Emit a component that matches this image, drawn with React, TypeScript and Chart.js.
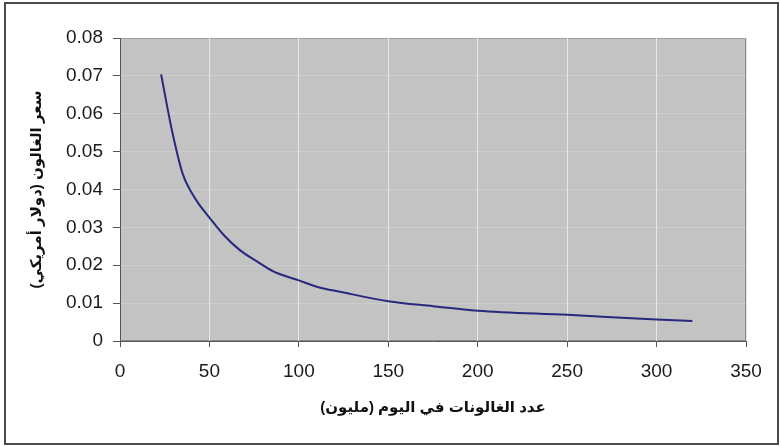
import { useEffect, useRef } from 'react'
import { Chart, registerables } from 'chart.js'

Chart.register(...registerables)

// gallons per day (million) vs. price per gallon (USD)
const gallons = [23, 29, 35, 40, 44, 50, 58, 67, 77, 86, 100, 111, 123, 150, 175, 200, 250, 300, 320]
const prices = [
  0.0704, 0.0557, 0.0442, 0.0392, 0.0362, 0.0326, 0.028, 0.024, 0.0209, 0.0183, 0.016, 0.0142,
  0.013, 0.0105, 0.0092, 0.008, 0.0069, 0.0057, 0.0053,
]

const xTicks = [0, 50, 100, 150, 200, 250, 300, 350]
const yTicks = [0, 0.01, 0.02, 0.03, 0.04, 0.05, 0.06, 0.07, 0.08]
const yTickLabels = ['0', '0.01', '0.02', '0.03', '0.04', '0.05', '0.06', '0.07', '0.08']

// RLM marks keep the parentheses on the right side of the Arabic run
const xTitle = '\u200Fعدد الغالونات في اليوم (مليون)\u200F'
const yTitle = '\u200Fسعر الغالون (دولار أمريكي)\u200F'

const FONT = "'Liberation Sans', Arial, 'DejaVu Sans', sans-serif"

/** Grey plot background with a thin frame, Excel style */
const plotBackground = {
  id: 'plotBackground',
  beforeDraw(chart: Chart) {
    const { ctx, chartArea: a } = chart
    ctx.save()
    ctx.fillStyle = '#c3c3c3'
    ctx.fillRect(a.left, a.top, a.right - a.left, a.bottom - a.top)
    ctx.strokeStyle = '#8a8a8a'
    ctx.lineWidth = 1
    ctx.strokeRect(a.left + 0.5, a.top + 0.5, a.right - a.left - 1, a.bottom - a.top - 1)
    ctx.restore()
  },
}

export default function App() {
  const canvasRef = useRef<HTMLCanvasElement>(null)
  const chartRef = useRef<Chart | null>(null)

  useEffect(() => {
    if (!canvasRef.current) return
    const ctx = canvasRef.current.getContext('2d')
    if (!ctx) return

    chartRef.current = new Chart(ctx, {
      type: 'scatter',
      data: {
        datasets: [
          {
            data: gallons.map((g, i) => ({ x: g, y: prices[i] })),
            showLine: true,
            borderColor: '#28287f',
            borderWidth: 2,
            pointRadius: 0,
            cubicInterpolationMode: 'monotone',
          },
        ],
      },
      options: {
        animation: false,
        responsive: true,
        maintainAspectRatio: false,
        layout: { padding: { left: 0, top: 38, right: 35, bottom: 0 } },
        plugins: { legend: { display: false }, tooltip: { enabled: false } },
        scales: {
          x: {
            type: 'linear',
            min: 0,
            max: 350,
            afterBuildTicks: (s: any) => {
              s.ticks = xTicks.map((v) => ({ value: v }))
            },
            afterFit: (s: any) => {
              s.height = 105
            },
            grid: {
              color: '#e6e6e6',
              tickColor: '#555',
              tickLength: 6,
            },
            border: { color: '#555', width: 1 },
            ticks: {
              color: '#1a1a1a',
              padding: 13,
              maxRotation: 0,
              font: { family: FONT, size: 19 },
            },
            title: {
              display: true,
              text: xTitle,
              color: '#111',
              padding: { top: 0, bottom: 29 },
              font: { family: FONT, size: 15, weight: 'bold' },
            },
          },
          y: {
            type: 'linear',
            min: 0,
            max: 0.08,
            afterBuildTicks: (s: any) => {
              s.ticks = yTicks.map((v) => ({ value: v }))
            },
            afterFit: (s: any) => {
              s.width = 120
            },
            grid: {
              color: 'rgba(255,255,255,0.18)',
              tickColor: '#555',
              tickLength: 7,
            },
            border: { color: '#555', width: 1 },
            ticks: {
              color: '#1a1a1a',
              padding: 10,
              font: { family: FONT, size: 19 },
              callback: (_v: any, i: number) => yTickLabels[i],
            },
            title: {
              display: true,
              text: yTitle,
              color: '#111',
              padding: { top: 28, bottom: 0 },
              font: { family: FONT, size: 15, weight: 'bold' },
            },
          },
        },
      },
      plugins: [plotBackground],
    })

    return () => {
      if (chartRef.current) {
        chartRef.current.destroy()
        chartRef.current = null
      }
    }
  }, [])

  return (
    <div style={{ position: 'fixed', left: 0, top: 0, width: 781, height: 446, background: '#fff' }}>
      <div
        style={{
          position: 'absolute',
          left: 4,
          top: 2,
          width: 775,
          height: 443,
          boxSizing: 'border-box',
          border: '2px solid #4a4a4a',
        }}
      />
      <div style={{ position: 'absolute', left: 0, top: 0, width: 781, height: 446 }}>
        <canvas ref={canvasRef} />
      </div>
    </div>
  )
}
